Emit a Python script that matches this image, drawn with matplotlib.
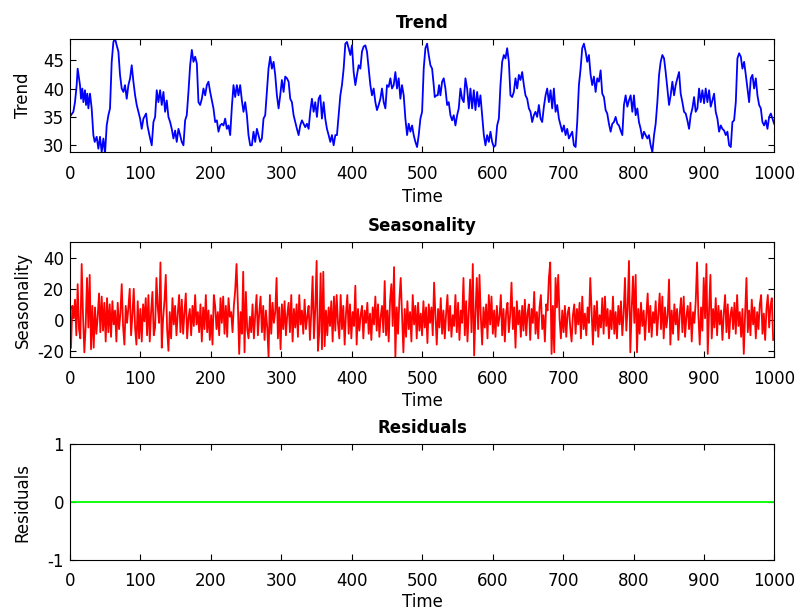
import numpy as np
import matplotlib
matplotlib.use("Agg")
import matplotlib.pyplot as plt

# trend (time, value)
trend_t = [1.8, 5.2, 7.5, 9.9, 11.3, 13.2, 14.6, 16.1, 17.9, 19.4, 21.7, 23.2, 25.0, 26.5, 28.8, 31.2,
           33.6, 35.5, 38.3, 40.7, 43.0, 45.4, 47.8, 50.1, 52.5, 54.9, 57.2, 59.6, 62.0, 64.3, 66.7, 69.1,
           71.4, 73.8, 76.2, 78.5, 80.9, 83.3, 85.7, 88.0, 90.4, 92.8, 95.1, 99.9, 102.2, 104.6, 108.4,
           110.3, 113.1, 116.4, 118.8, 121.2, 123.5, 125.9, 128.3, 130.6, 133.0, 135.4, 137.7, 140.1,
           142.5, 144.8, 147.2, 149.6, 151.9, 154.3, 156.7, 159.0, 161.4, 163.8, 166.1, 168.5, 170.9,
           173.3, 175.6, 178.0, 180.4, 182.7, 185.1, 187.5, 189.8, 192.2, 194.6, 196.9, 199.3, 201.7,
           204.0, 206.4, 208.8, 211.1, 213.5, 215.9, 218.2, 220.6, 223.0, 225.3, 227.7, 230.1, 232.4,
           234.8, 237.2, 239.5, 241.9, 244.3, 246.6, 249.0, 251.4, 253.7, 256.1,
           258.5, 260.8, 263.2, 265.6, 267.9, 270.3, 272.7, 275.0, 277.4, 279.8, 282.1, 284.5, 286.9,
           289.3, 291.6, 294.0, 296.4, 298.7, 301.1, 303.5, 305.8, 308.2, 310.6, 312.9, 315.3, 317.7,
           320.0, 322.4, 324.8, 327.1, 329.5, 331.9, 334.2, 336.6, 339.0, 341.3, 343.7, 346.1, 348.4,
           350.8, 353.2, 355.5, 357.9, 360.3, 362.6, 365.0, 367.4, 369.8, 372.1, 374.5, 376.9, 379.2,
           381.6, 384.0, 386.3, 388.7, 391.1, 393.4, 395.8, 398.2, 400.5, 402.9, 405.3, 407.6, 410.0,
           412.4, 414.7, 417.1, 419.5, 421.8, 424.2, 426.6, 428.9, 431.3, 433.7, 436.0, 438.4, 440.8,
           443.1, 445.5, 447.9, 450.2, 452.6, 455.0, 457.3, 459.7, 462.1, 464.4, 466.8, 469.2, 471.5,
           473.9, 476.3, 478.7, 481.0, 483.4, 485.8, 488.1, 490.5, 492.9, 495.2, 497.6, 500.0, 502.3,
           504.7, 507.1, 509.4, 511.8,
           514.2, 516.5, 518.0, 520.3, 522.2, 524.1, 526.0, 528.4, 530.7, 533.1, 535.5, 537.8, 540.2,
           542.6, 544.9, 547.3, 549.7, 552.0, 554.4, 556.8, 559.1, 561.5, 563.9, 566.3, 568.6, 571.0,
           573.4, 575.7, 578.1, 580.5, 582.8, 585.2, 587.6, 589.9, 592.3, 594.7, 597.0, 599.4, 601.8,
           604.1, 606.5, 608.9, 611.2, 613.6, 616.0, 618.3, 620.7, 623.1, 625.4, 627.8, 630.2, 632.5,
           634.9, 637.3, 639.6, 642.0, 644.4, 646.7, 649.1, 651.5, 653.8, 656.2, 658.6, 660.9, 663.3,
           665.7, 668.1, 670.4, 672.8, 675.2, 677.5, 679.9, 682.3, 684.6, 687.0, 689.4, 691.7, 694.1,
           696.5, 698.8, 701.2, 703.6, 705.9, 708.3, 710.7, 713.0, 715.4, 717.8, 720.1, 722.5, 724.9,
           727.2, 729.6, 732.0, 734.3, 736.7, 739.1, 741.4, 743.8, 746.2, 748.5, 750.9, 753.3, 755.6,
           758.0, 760.4, 762.7, 765.1, 767.5,
           769.9, 772.2, 774.6, 777.0, 779.3, 781.7, 784.1, 786.4, 788.8, 791.2, 793.5, 795.9, 798.3,
           800.6, 803.0, 805.4, 807.7, 810.1, 812.5, 814.8, 817.2, 819.6, 821.9, 824.3, 826.7, 829.1,
           831.4, 833.8, 836.2, 838.5, 840.9, 843.3, 845.6, 848.0, 850.4, 852.7, 855.1, 857.5, 859.8,
           862.2, 864.6, 866.9, 869.3, 871.7, 874.0, 876.4, 878.8, 881.1, 883.5, 885.9, 888.2, 890.6,
           893.0, 895.3, 897.7, 900.1, 902.4, 904.8, 907.2, 909.5, 911.9, 914.3, 916.6, 919.0, 921.4,
           923.8, 926.1, 928.5, 930.9, 933.2, 935.6, 938.0, 940.3, 942.7, 945.1, 947.4, 949.8, 952.2,
           954.5, 956.9, 959.3, 961.6, 964.0, 966.4, 968.7, 971.1, 973.5, 975.8, 978.2, 980.6, 982.9,
           985.3, 987.7, 990.0, 992.4, 994.8, 997.1, 999.5]
trend_v = [35.3, 35.9, 37.6, 40.6, 43.5, 41.8, 40.6, 38.2, 40.0, 37.6, 39.7, 37.1, 39.1, 36.5, 39.1, 36.5,
           31.8, 30.6, 31.5, 29.4, 31.5, 28.8, 31.2, 28.5, 33.5, 35.3, 36.5, 44.7, 48.2, 48.8, 47.6, 46.5,
           42.4, 40.0, 39.4, 40.6, 38.2, 40.6, 41.8, 44.1, 41.2, 38.8, 37.1, 34.7, 32.9, 34.7, 35.6,
           33.5, 31.8, 30.0, 34.1, 35.0, 39.7, 37.6, 39.7, 37.1, 39.4, 35.9, 37.9, 35.0,
           34.1, 32.9, 31.2, 32.6, 30.6, 32.9, 31.8, 30.6, 30.0, 34.4, 35.3, 39.4, 44.1,
           46.8, 44.7, 45.6, 44.4, 37.6, 37.1, 38.2, 40.0, 38.8, 40.6, 41.2, 39.4, 37.9,
           36.5, 34.1, 34.4, 32.4, 33.5, 33.8, 33.5, 34.7, 32.9, 33.5, 31.8, 36.8, 40.6,
           38.5, 40.6, 38.8, 40.6, 37.9, 35.9, 37.6, 35.3, 31.8, 30.0,
           30.0, 32.4, 30.6, 32.9, 31.8, 30.6, 31.2, 34.7, 35.3, 39.4, 43.5, 45.6, 43.5,
           44.7, 42.4, 38.8, 36.5, 38.8, 41.5, 39.4, 42.1, 41.8, 41.2, 38.2, 37.6, 35.3,
           34.1, 32.9, 31.8, 33.5, 34.4, 33.8, 33.2, 33.8, 32.9, 35.9, 38.2, 35.9, 37.6,
           35.0, 38.2, 38.8, 34.7, 37.6, 34.7, 32.9, 31.8, 30.6, 31.8, 30.0, 31.8, 31.8,
           35.3, 38.8, 40.6, 43.5, 47.9, 48.2, 47.1, 45.9, 47.6, 42.9, 40.6, 42.4, 44.1,
           43.5, 46.5, 47.4, 47.6, 46.5, 43.5, 40.6, 38.8, 40.0, 37.6, 36.2, 37.1, 38.2,
           40.0, 37.6, 36.5, 40.6, 40.3, 41.8, 40.0, 40.6, 42.9, 40.0, 41.8, 38.2, 40.6,
           38.8, 34.7, 31.8, 33.8, 32.4, 33.5, 31.8, 30.6, 29.7, 31.8, 34.7, 35.9, 43.5,
           47.1, 47.9, 45.9, 44.1,
           43.5, 40.6, 38.5, 38.8, 38.8, 40.6, 38.8, 41.2, 41.8, 40.0, 37.1, 37.6, 35.3,
           34.4, 35.3, 33.5, 35.3, 36.5, 40.0, 38.2, 37.6, 41.8, 40.0, 36.5, 40.0, 36.5,
           39.7, 36.2, 39.4, 36.8, 38.8, 35.3, 31.8, 30.0, 31.8, 30.6, 32.4, 30.6, 29.7,
           30.0, 33.5, 34.7, 40.6, 44.7, 45.9, 45.3, 47.1, 44.7, 38.8, 38.5, 39.4, 41.8,
           40.0, 42.4, 41.5, 42.9, 40.6, 38.8, 38.2, 36.5, 35.9, 34.1, 35.3, 35.9, 35.0,
           37.1, 34.7, 34.1, 36.8, 38.8, 40.0, 37.6, 39.7, 36.5, 40.0, 35.9, 37.1, 34.7,
           33.5, 32.4, 33.5, 31.8, 32.9, 31.2, 31.8, 32.4, 30.0, 29.7, 34.1, 40.6, 43.5,
           47.1, 47.9, 46.5, 44.7, 45.9, 42.4, 40.6, 42.1, 39.4, 41.8, 41.2, 43.2, 39.1,
           38.5, 36.2, 35.6, 33.8, 32.4,
           33.8, 34.1, 35.0, 33.8, 33.5, 32.6, 31.8, 37.1, 38.8, 36.8, 37.9, 38.8, 35.9,
           38.8, 35.3, 36.5, 34.1, 32.9, 31.2, 32.4, 31.8, 31.2, 31.8, 30.0, 28.8, 31.8,
           33.8, 37.6, 42.4, 44.7, 45.9, 45.3, 42.9, 40.0, 37.1, 38.8, 41.2, 38.8, 40.6,
           41.8, 42.9, 39.1, 37.6, 35.9, 35.6, 34.4, 32.9, 35.3, 36.5, 38.5, 35.9, 36.5,
           40.0, 37.6, 39.7, 37.4, 40.0, 37.6, 39.7, 36.8, 37.9, 39.1, 35.9, 34.7, 32.4,
           33.5, 32.9, 32.6, 31.8, 32.4, 30.0, 29.7, 34.1, 34.4, 37.6, 45.3, 46.2, 45.6,
           43.5, 44.7, 42.4, 40.0, 37.6, 41.8, 42.4, 40.0, 41.8, 38.8, 37.1, 36.5, 34.1,
           33.5, 34.4, 32.9, 35.0, 35.6, 34.7, 33.8]

# seasonality, read every 1.894 time units starting at t = 1.85
season_t0 = 1.85
season_dt = 1.894
season_v = [
    -18, 9, 1, 13, -10, 23, -6, -12, 36, 3, -21, -4, 27, -5, 29, -19, 9, -18, 8, -9,
    2, 17, -8, 15, -7, 11, -14, 14, -8, 10, -11, 12, -3, 6, -14, 11, -6, 4, 23, -4,
    -16, 9, -2, 8, 20, -10, 3, 20, -5, -16, 12, -12, 7, -14, 10, -1, 14, -10, 16, -14,
    5, 18, -10, -5, 27, 8, -2, 37, -18, 1, 12, 29, -6, -20, 5, -12, 14, -3, 9, -10,
    4, 16, -8, 13, -9, 5, 17, -12, 1, 7, -10, 9, -4, 16, -3, 5, -8, 10, -14, 8,
    -6, 16, -8, 6, -13, 3, -16, 16, 9, -6, 5, -10, 14, -2, 15, -9, 9, -11, 14, 2,
    5, -8, 9, 19, 36, 10, -22, 5, -9, 31, -21, 18, -6, -12, 2,
    -8, 10, -12, 3, 16, -10, 4, 15, -8, 9, -13, 6, -5, -24, 16, -9, 11, -2, 5, 27,
    -12, 8, -19, 10, -6, 12, -10, 3, 11, -8, 16, -14, 7, -5, 10, -11, 16, -3, 6, -9,
    13, -6, 2, 9, -13, 5, 28, -12, 7, 38, -20, -8, 30, -19, 31, -17, 6, -10, 8, -4,
    12, -14, 15, -7, 16, -2, -12, 16, -6, 9, -16, 4, 16, -9, 10, -12, 5, -4, 22, -16,
    7, -7, 3, 9, -12, 6, -2, 11, -9, 4, -13, 8, -3, 15, -7, 10, -11, 2, 9, -8,
    25, -10, 6, -14, 12, 23, -4, 34, -24, 8, -9, 13, 27, 2, -21, 7, -11, 12, -6, 5,
    -14, 16, -3, 9, -12, 11, -7, 4, -10, 12, -5, 8, -15, 10, -2,
    8, -10, 24, 3, -16, 7, -5, 14, -9, 6, -12, 4, 16, -7, 9, -11, 3, -4, 16, -8,
    11, -13, 6, -2, 27, -10, 12, -14, 5, 26, -8, 36, -23, 4, 27, -6, 29, 2, -16, 8,
    -5, 10, -12, 16, -3, 15, -9, 6, -11, 9, -4, 2, 16, -10, 7, -14, 5, 11, -8, 3,
    24, -6, 8, -18, 12, -3, 6, -11, 9, -7, 13, -10, 4, 10, -13, 7, -2, 18, -9, 5,
    -12, 8, 16, -6, 3, -14, 10, 6, 27, 37, -22, 9, -21, 27, 8, 29, 1, -12, 6, -8,
    9, -11, 4, 8, -5, -14, 3, 10, -9, 7, -3, 11, -12, 15, -6, 4, -10, 8, -2, 27,
    5, -16, 9, -7, 12, -11, 3, -5, 14, -9, 15, -4, 7, -12, 6,
    -6, 15, -9, 5, -12, 9, -3, 12, -10, 4, 27, -7, 8, 38, -21, 6, 28, -2, 29, -21,
    7, -9, 11, -4, 6, -13, 3, 17, -8, 9, -11, 5, -2, 12, -10, 4, 17, -6, 15, -12,
    8, -5, 3, 26, -16, 6, -9, 10, -3, 7, -13, 4, 14, -8, 15, -11, 2, 9, -6, 11,
    -14, 5, -2, 12, 37, 3, -16, 8, -7, 27, 1, 36, -22, 6, 29, -12, 7, -5, 14, -10,
    9, -3, 6, -13, 4, 16, -8, 10, -12, 3, 8, -6, 11, -9, 16, -4, 5, -11, 7, -22,
    4, 27, -8, 6, -10, 13, -3, 8, -12, 5, -6, 10, 16, -9, 4, -13, 7, 16, -5, 9,
    14, -13]
season_t = season_t0 + season_dt * np.arange(len(season_v))

# residuals are flat zero
resid_t = [1, 1000]
resid_v = [0, 0]

plt.rcParams['font.family'] = ['DejaVu Sans']
plt.rcParams['font.size'] = 12
plt.rcParams['axes.unicode_minus'] = False

fig = plt.figure(figsize=(8.02, 6.11), dpi=100)

panels = [
    ("Trend", trend_t, trend_v, (0, 0, 1), [0.0869, 0.751, 0.8788, 0.185], (28.8, 48.7), [30, 35, 40, 45], 3.5),
    ("Seasonality", season_t, season_v, (1, 0, 0), [0.0869, 0.4157, 0.8788, 0.1877], (-24, 50), [-20, 0, 20, 40], 3.5),
    ("Residuals", resid_t, resid_v, (0, 1, 0), [0.0869, 0.0835, 0.8788, 0.1893], (-1, 1), [-1, 0, 1], 1.5),
]

for name, t, v, col, pos, ylim, yt, lp in panels:
    ax = fig.add_axes(pos)
    ax.plot(t, v, color=col, lw=1.3)
    ax.set_xlim(0, 1000)
    ax.set_ylim(*ylim)
    ax.set_yticks(yt)
    ax.set_xticks(np.arange(0, 1001, 100))
    ax.tick_params(direction='in', top=True, right=True, length=4.5, width=0.8)
    ax.tick_params(axis='x', pad=9)
    ax.tick_params(axis='y', pad=4)
    ax.set_title(name, fontweight='bold', fontsize=12, pad=8)
    ax.set_xlabel("Time", labelpad=lp)
    ax.set_ylabel(name)
    ax.yaxis.set_label_coords(-0.054, 0.5)
    for s in ax.spines.values():
        s.set_linewidth(0.8)

fig.savefig("out.png", dpi=100)
